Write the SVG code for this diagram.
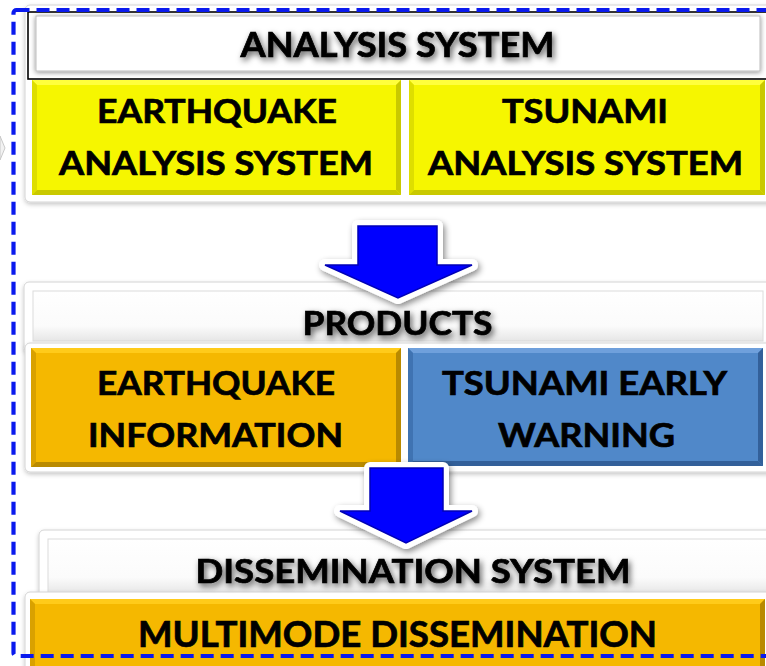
<svg xmlns="http://www.w3.org/2000/svg" width="766" height="666" viewBox="0 0 766 666">
<defs>
<filter id="cardShadow" x="-5%" y="-10%" width="110%" height="130%">
<feDropShadow dx="0" dy="2" stdDeviation="2" flood-color="#000" flood-opacity="0.22"/>
</filter>
<filter id="boxShadow" x="-5%" y="-20%" width="110%" height="140%">
<feDropShadow dx="0" dy="1" stdDeviation="2.5" flood-color="#000" flood-opacity="0.45"/>
</filter>
<filter id="textShadow" x="-10%" y="-40%" width="120%" height="180%">
<feDropShadow dx="2" dy="3" stdDeviation="3" flood-color="#000" flood-opacity="0.65"/>
</filter>
<filter id="arrowShadow" x="-20%" y="-20%" width="140%" height="150%">
<feDropShadow dx="2" dy="3" stdDeviation="3" flood-color="#000" flood-opacity="0.45"/>
</filter>
<linearGradient id="hdrGrad" x1="0" y1="0" x2="0" y2="1">
<stop offset="0" stop-color="#ffffff"/>
<stop offset="0.7" stop-color="#fbfbfb"/>
<stop offset="1" stop-color="#e6e6e6"/>
</linearGradient>
<style>
.card{fill:#ffffff;stroke:#d4d4d4;stroke-width:1;}
.inner{fill:url(#hdrGrad);stroke:#dcdcdc;stroke-width:1;}
.t{font-family:Lato,"Open Sans","Liberation Sans",sans-serif;font-weight:bold;fill:#000;stroke:#000;stroke-width:0.7;text-anchor:middle;}
.hdr{filter:url(#textShadow);}
.yel{fill:#f6f600;}
.yl{fill:#ffff3c;} .yd{fill:#c9c900;} .ym{fill:#dede00;}
.org{fill:#f5b800;}
.ol{fill:#ffcb1a;} .od{fill:#b98a00;} .om{fill:#d9a100;}
.blu{fill:#5088c9;}
.bl{fill:#6fa0dc;} .bd{fill:#33609a;} .bm{fill:#3f73b2;}
.aout{fill:#ffffff;stroke:#ffffff;stroke-width:12;stroke-linejoin:round;filter:url(#arrowShadow);}
.ain{fill:#0000ff;stroke:#0000b8;stroke-width:1.5;stroke-linejoin:miter;}
.frame{fill:none;stroke:#0a1aee;stroke-width:4.2;stroke-dasharray:13 7;}
</style>
</defs>
<rect width="766" height="666" fill="#ffffff"/>
<polygon points="0,136 5,148 0,160" fill="#f2f2f2" stroke="#c8c8c8" stroke-width="1"/>

<g id="analysis-system">
<rect class="card" x="25" y="5" width="760" height="197" rx="5" filter="url(#cardShadow)"/>
<rect x="28" y="12" width="760" height="67" fill="#ffffff" stroke="#000" stroke-width="1.6"/>
<rect x="36" y="16" width="724" height="55" fill="#ffffff" stroke="#bdbdbd" stroke-width="1" filter="url(#boxShadow)"/>
<text class="t hdr" x="397.5" y="57" font-size="35" textLength="314" lengthAdjust="spacingAndGlyphs">ANALYSIS SYSTEM</text>
</g>

<g id="earthquake-analysis">
<rect class="yel" x="32" y="80" width="369" height="115"/>
<polygon class="yl" points="32,80 401,80 396,85 37,85"/>
<polygon class="ym" points="32,80 37,85 37,190 32,195"/>
<polygon class="yd" points="32,195 37,190 396,190 401,195"/>
<polygon class="yd" points="401,80 401,195 396,190 396,85"/>
<text class="t" x="217" y="123" font-size="33" textLength="240" lengthAdjust="spacingAndGlyphs">EARTHQUAKE</text>
<text class="t" x="216" y="175" font-size="33" textLength="314" lengthAdjust="spacingAndGlyphs">ANALYSIS SYSTEM</text>
</g>

<g id="tsunami-analysis">
<rect class="yel" x="409" y="80" width="356" height="115"/>
<polygon class="yl" points="409,80 765,80 760,85 414,85"/>
<polygon class="ym" points="409,80 414,85 414,190 409,195"/>
<polygon class="yd" points="409,195 414,190 760,190 765,195"/>
<polygon class="yd" points="765,80 765,195 760,190 760,85"/>
<text class="t" x="585" y="123" font-size="33" textLength="166" lengthAdjust="spacingAndGlyphs">TSUNAMI</text>
<text class="t" x="585.5" y="175" font-size="33" textLength="315" lengthAdjust="spacingAndGlyphs">ANALYSIS SYSTEM</text>
</g>

<g id="products">
<rect class="card" x="24" y="282" width="770" height="70" rx="5" filter="url(#cardShadow)"/>
<rect class="inner" x="33" y="291" width="730" height="50"/>
<rect class="card" x="25" y="343" width="770" height="129" rx="5" filter="url(#cardShadow)"/>
<text class="t hdr" x="397.5" y="335" font-size="33" textLength="190" lengthAdjust="spacingAndGlyphs">PRODUCTS</text>
</g>

<g id="earthquake-information">
<rect class="org" x="31" y="348" width="370" height="119"/>
<polygon class="ol" points="31,348 401,348 396,353 36,353"/>
<polygon class="om" points="31,348 36,353 36,462 31,467"/>
<polygon class="od" points="31,467 36,462 396,462 401,467"/>
<polygon class="od" points="401,348 401,467 396,462 396,353"/>
<text class="t" x="216" y="395" font-size="33" textLength="238" lengthAdjust="spacingAndGlyphs">EARTHQUAKE</text>
<text class="t" x="215.5" y="447" font-size="33" textLength="255" lengthAdjust="spacingAndGlyphs">INFORMATION</text>
</g>

<g id="tsunami-early-warning">
<rect class="blu" x="408" y="348" width="355" height="118"/>
<polygon class="bl" points="408,348 763,348 758,353 413,353"/>
<polygon class="bm" points="408,348 413,353 413,461 408,466"/>
<polygon class="bd" points="408,466 413,461 758,461 763,466"/>
<polygon class="bd" points="763,348 763,466 758,461 758,353"/>
<text class="t" x="584.5" y="395" font-size="33" textLength="285" lengthAdjust="spacingAndGlyphs">TSUNAMI EARLY</text>
<text class="t" x="586.5" y="447" font-size="33" textLength="177" lengthAdjust="spacingAndGlyphs">WARNING</text>
</g>

<g id="dissemination-system">
<rect class="card" x="39" y="530" width="760" height="70" rx="5" filter="url(#cardShadow)"/>
<rect class="inner" x="48" y="539" width="720" height="55"/>
<rect class="card" x="25" y="592" width="770" height="90" rx="5" filter="url(#cardShadow)"/>
<text class="t hdr" x="413" y="583" font-size="33" textLength="435" lengthAdjust="spacingAndGlyphs">DISSEMINATION SYSTEM</text>
</g>

<g id="multimode-dissemination">
<rect class="org" x="30" y="599" width="735" height="72"/>
<polygon class="ol" points="30,599 765,599 760,604 35,604"/>
<polygon class="om" points="30,599 35,604 35,666 30,671"/>
<polygon class="od" points="765,599 765,671 760,666 760,604"/>
<text class="t" x="397.5" y="647" font-size="36" textLength="519" lengthAdjust="spacingAndGlyphs">MULTIMODE DISSEMINATION</text>
</g>

<g id="connectors">
<polygon class="aout" points="358,226 437,226 437,265 472,265 398,298 325,265 358,265"/>
<polygon class="ain" points="358,226 437,226 437,265 472,265 398,298 325,265 358,265"/>
<polygon class="aout" points="370,468 443,468 443,511 472,511 406,543 340,511 370,511"/>
<polygon class="ain" points="370,468 443,468 443,511 472,511 406,543 340,511 370,511"/>
</g>

<rect id="boundary" class="frame" x="13.5" y="10" width="800" height="646" rx="3"/>
</svg>
